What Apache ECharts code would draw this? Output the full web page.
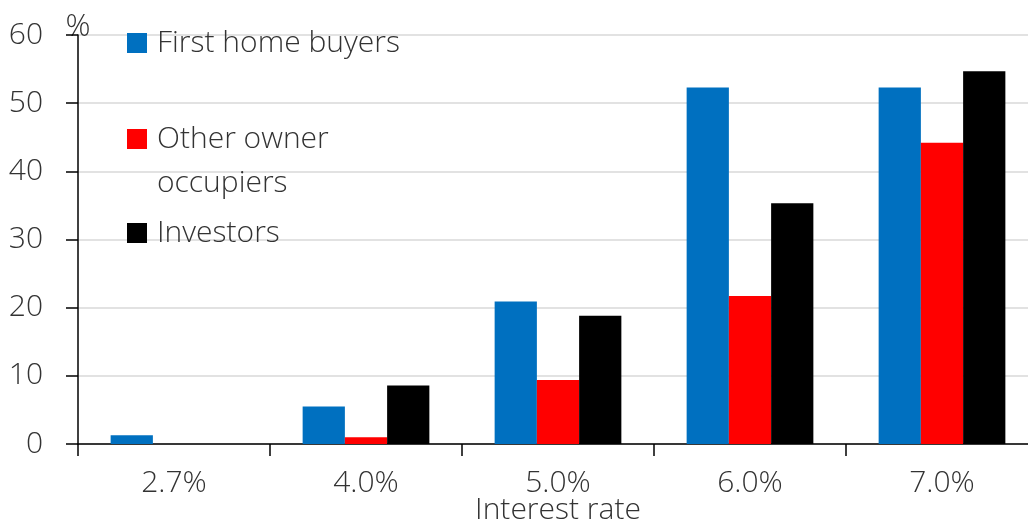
<!DOCTYPE html>
<html>
<head>
<meta charset="utf-8">
<script src="https://cdn.jsdelivr.net/npm/echarts@6/dist/echarts.min.js"></script>
<style>
  html, body { margin: 0; padding: 0; background: #fff; overflow: hidden; }
  #chart { width: 1028px; height: 523px; }
</style>
</head>
<body>
<div id="chart"></div>
<script>
// Share of borrowers by interest rate scenario (%)
const categories = ['2.7%', '4.0%', '5.0%', '6.0%', '7.0%'];
const firstHomeBuyers = [1.3, 5.5, 20.9, 52.3, 52.3];
const otherOwnerOccupiers = [0, 1.0, 9.4, 21.7, 44.2];
const investors = [0, 8.6, 18.8, 35.3, 54.7];
const yTicks = { min: 0, max: 60, interval: 10 };

const FONT = '"Open Sans", "Noto Sans", sans-serif';
const TXT = '#333333';
const fs = 30;

const chart = echarts.init(document.getElementById('chart'), null, { renderer: 'canvas' });

// one legend block per series so each can sit at its own height
function legendAt(name, color, top, formatter) {
  const lg = {
    show: true,
    orient: 'vertical',
    left: 127,
    top: top,
    padding: 0,
    itemWidth: 20,
    itemHeight: 20,
    itemGap: 0,
    icon: 'rect',
    selectedMode: false,
    data: [{ name: name, itemStyle: { color: color } }],
    textStyle: {
      fontFamily: FONT, fontSize: fs, fontWeight: 300, color: TXT, lineHeight: 44,
      padding: [0, 0, 0, 5]
    }
  };
  if (formatter) lg.formatter = formatter;
  return lg;
}

chart.setOption({
  animation: false,
  backgroundColor: '#ffffff',
  textStyle: { fontFamily: FONT },
  grid: { left: 78, top: 35, bottom: 79, width: 960, containLabel: false, outerBoundsMode: 'none' },
  legend: [
    legendAt('First home buyers', '#0070C0', 21),
    // leading blank line keeps the swatch level with the first text line
    legendAt('Other owner occupiers', '#FF0000', 73, function () { return ' \nOther owner\noccupiers'; }),
    legendAt('Investors', '#000000', 211)
  ],
  xAxis: {
    type: 'category',
    data: categories,
    boundaryGap: true,
    name: 'Interest rate',
    nameLocation: 'middle',
    nameGap: 66,
    nameMoveOverlap: false,
    nameTextStyle: { fontFamily: FONT, fontSize: fs, fontWeight: 300, color: TXT, verticalAlign: 'middle' },
    axisLine: { show: true, lineStyle: { color: '#000', width: 1.5 } },
    axisTick: { show: true, length: 12, alignWithLabel: false, lineStyle: { color: '#000', width: 1.5 } },
    axisLabel: { margin: 24, fontFamily: FONT, fontSize: fs, fontWeight: 300, color: TXT },
    splitLine: { show: false }
  },
  yAxis: {
    type: 'value',
    min: yTicks.min,
    max: yTicks.max,
    interval: yTicks.interval,
    name: '%',
    nameLocation: 'end',
    nameGap: 8,
    nameMoveOverlap: false,
    nameTextStyle: { fontFamily: FONT, fontSize: 31, fontWeight: 300, color: TXT, align: 'center', verticalAlign: 'middle' },
    axisLine: { show: true, lineStyle: { color: '#000', width: 1.5 } },
    axisTick: { show: true, length: 12, inside: false, lineStyle: { color: '#000', width: 1.5 } },
    axisLabel: { margin: 35, fontFamily: FONT, fontSize: fs, fontWeight: 300, color: TXT },
    splitLine: { show: true, lineStyle: { color: '#d9d9d9', width: 1.5 } }
  },
  series: [
    { name: 'First home buyers', type: 'bar', data: firstHomeBuyers, itemStyle: { color: '#0070C0' }, barGap: '0%', barCategoryGap: '34%' },
    { name: 'Other owner occupiers', type: 'bar', data: otherOwnerOccupiers, itemStyle: { color: '#FF0000' }, barGap: '0%', barCategoryGap: '34%' },
    { name: 'Investors', type: 'bar', data: investors, itemStyle: { color: '#000000' }, barGap: '0%', barCategoryGap: '34%' }
  ]
});
</script>
</body>
</html>
